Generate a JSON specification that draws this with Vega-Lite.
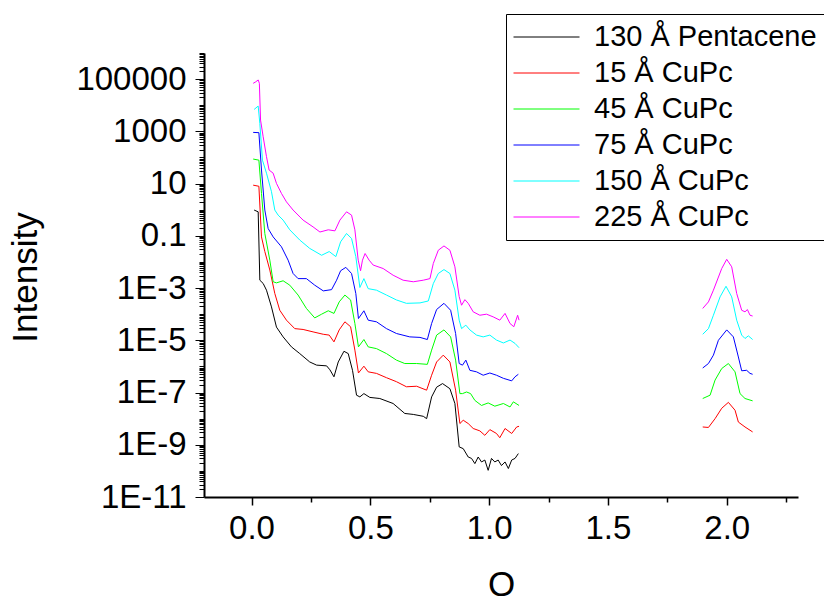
{
"$schema": "https://vega.github.io/schema/vega-lite/v6.json",
"width": 594, "height": 444,
"autosize": {"type": "none"},
"padding": {"left": 204, "top": 53, "right": 26, "bottom": 99},
"config": {"font": "Liberation Sans", "view": {"stroke": null}},
"data": {"values": [
{"series":"130 Å Pentacene","seg":1,"q":0.011,"i":0.97},{"series":"130 Å Pentacene","seg":1,"q":0.028,"i":0.83},{"series":"130 Å Pentacene","seg":1,"q":0.035,"i":2.0e-3},{"series":"130 Å Pentacene","seg":1,"q":0.049,"i":1.5e-3},{"series":"130 Å Pentacene","seg":1,"q":0.063,"i":8.3e-4},{"series":"130 Å Pentacene","seg":1,"q":0.084,"i":1.9e-4},{"series":"130 Å Pentacene","seg":1,"q":0.105,"i":3.2e-5},{"series":"130 Å Pentacene","seg":1,"q":0.133,"i":1.35e-5},{"series":"130 Å Pentacene","seg":1,"q":0.168,"i":5.6e-6},{"series":"130 Å Pentacene","seg":1,"q":0.203,"i":3.1e-6},{"series":"130 Å Pentacene","seg":1,"q":0.245,"i":1.48e-6},{"series":"130 Å Pentacene","seg":1,"q":0.274,"i":1.12e-6},{"series":"130 Å Pentacene","seg":1,"q":0.316,"i":1.05e-6},{"series":"130 Å Pentacene","seg":1,"q":0.330,"i":7.4e-7},{"series":"130 Å Pentacene","seg":1,"q":0.347,"i":4.0e-7},{"series":"130 Å Pentacene","seg":1,"q":0.365,"i":1.48e-6},{"series":"130 Å Pentacene","seg":1,"q":0.389,"i":3.8e-6},{"series":"130 Å Pentacene","seg":1,"q":0.407,"i":3.1e-6},{"series":"130 Å Pentacene","seg":1,"q":0.425,"i":7.1e-7},{"series":"130 Å Pentacene","seg":1,"q":0.442,"i":7.9e-8},{"series":"130 Å Pentacene","seg":1,"q":0.456,"i":6.8e-8},{"series":"130 Å Pentacene","seg":1,"q":0.473,"i":9.1e-8},{"series":"130 Å Pentacene","seg":1,"q":0.498,"i":6.5e-8},{"series":"130 Å Pentacene","seg":1,"q":0.540,"i":5.9e-8},{"series":"130 Å Pentacene","seg":1,"q":0.596,"i":3.8e-8},{"series":"130 Å Pentacene","seg":1,"q":0.645,"i":1.58e-8},{"series":"130 Å Pentacene","seg":1,"q":0.681,"i":1.45e-8},{"series":"130 Å Pentacene","seg":1,"q":0.723,"i":1.23e-8},{"series":"130 Å Pentacene","seg":1,"q":0.737,"i":1.0e-8},{"series":"130 Å Pentacene","seg":1,"q":0.758,"i":6.8e-8},{"series":"130 Å Pentacene","seg":1,"q":0.779,"i":1.6e-7},{"series":"130 Å Pentacene","seg":1,"q":0.804,"i":2.2e-7},{"series":"130 Å Pentacene","seg":1,"q":0.835,"i":1.4e-7},{"series":"130 Å Pentacene","seg":1,"q":0.856,"i":3.8e-8},{"series":"130 Å Pentacene","seg":1,"q":0.874,"i":8.3e-10},{"series":"130 Å Pentacene","seg":1,"q":0.891,"i":7.1e-10},{"series":"130 Å Pentacene","seg":1,"q":0.912,"i":3.4e-10},{"series":"130 Å Pentacene","seg":1,"q":0.926,"i":3.0e-10},{"series":"130 Å Pentacene","seg":1,"q":0.940,"i":1.9e-10},{"series":"130 Å Pentacene","seg":1,"q":0.954,"i":3.4e-10},{"series":"130 Å Pentacene","seg":1,"q":0.968,"i":2.2e-10},{"series":"130 Å Pentacene","seg":1,"q":0.982,"i":2.6e-10},{"series":"130 Å Pentacene","seg":1,"q":0.996,"i":1.05e-10},{"series":"130 Å Pentacene","seg":1,"q":1.010,"i":3.0e-10},{"series":"130 Å Pentacene","seg":1,"q":1.024,"i":2.2e-10},{"series":"130 Å Pentacene","seg":1,"q":1.038,"i":2.6e-10},{"series":"130 Å Pentacene","seg":1,"q":1.052,"i":1.6e-10},{"series":"130 Å Pentacene","seg":1,"q":1.067,"i":2.2e-10},{"series":"130 Å Pentacene","seg":1,"q":1.081,"i":1.23e-10},{"series":"130 Å Pentacene","seg":1,"q":1.095,"i":2.6e-10},{"series":"130 Å Pentacene","seg":1,"q":1.109,"i":3.0e-10},{"series":"130 Å Pentacene","seg":1,"q":1.123,"i":4.6e-10},

{"series":"15 Å CuPc","seg":1,"q":0.007,"i":8.7},{"series":"15 Å CuPc","seg":1,"q":0.031,"i":7.9},{"series":"15 Å CuPc","seg":1,"q":0.042,"i":0.091},{"series":"15 Å CuPc","seg":1,"q":0.056,"i":0.025},{"series":"15 Å CuPc","seg":1,"q":0.077,"i":4.9e-3},{"series":"15 Å CuPc","seg":1,"q":0.098,"i":6.2e-4},{"series":"15 Å CuPc","seg":1,"q":0.119,"i":1.41e-4},{"series":"15 Å CuPc","seg":1,"q":0.147,"i":5.9e-5},{"series":"15 Å CuPc","seg":1,"q":0.182,"i":2.8e-5},{"series":"15 Å CuPc","seg":1,"q":0.217,"i":2.6e-5},{"series":"15 Å CuPc","seg":1,"q":0.259,"i":2.1e-5},{"series":"15 Å CuPc","seg":1,"q":0.302,"i":1.7e-5},{"series":"15 Å CuPc","seg":1,"q":0.327,"i":1.58e-5},{"series":"15 Å CuPc","seg":1,"q":0.347,"i":8.7e-6},{"series":"15 Å CuPc","seg":1,"q":0.369,"i":2.5e-5},{"series":"15 Å CuPc","seg":1,"q":0.393,"i":5.1e-5},{"series":"15 Å CuPc","seg":1,"q":0.417,"i":3.3e-5},{"series":"15 Å CuPc","seg":1,"q":0.435,"i":4.2e-6},{"series":"15 Å CuPc","seg":1,"q":0.450,"i":5.6e-7},{"series":"15 Å CuPc","seg":1,"q":0.473,"i":1.02e-6},{"series":"15 Å CuPc","seg":1,"q":0.491,"i":6.2e-7},{"series":"15 Å CuPc","seg":1,"q":0.526,"i":5.4e-7},{"series":"15 Å CuPc","seg":1,"q":0.568,"i":3.7e-7},{"series":"15 Å CuPc","seg":1,"q":0.610,"i":2.6e-7},{"series":"15 Å CuPc","seg":1,"q":0.652,"i":1.66e-7},{"series":"15 Å CuPc","seg":1,"q":0.695,"i":1.74e-7},{"series":"15 Å CuPc","seg":1,"q":0.737,"i":1.23e-7},{"series":"15 Å CuPc","seg":1,"q":0.758,"i":4.6e-7},{"series":"15 Å CuPc","seg":1,"q":0.779,"i":1.48e-6},{"series":"15 Å CuPc","seg":1,"q":0.807,"i":2.7e-6},{"series":"15 Å CuPc","seg":1,"q":0.835,"i":1.48e-6},{"series":"15 Å CuPc","seg":1,"q":0.859,"i":1.23e-7},{"series":"15 Å CuPc","seg":1,"q":0.877,"i":6.5e-9},{"series":"15 Å CuPc","seg":1,"q":0.891,"i":8.7e-9},{"series":"15 Å CuPc","seg":1,"q":0.912,"i":6.5e-9},{"series":"15 Å CuPc","seg":1,"q":0.933,"i":4.2e-9},{"series":"15 Å CuPc","seg":1,"q":0.961,"i":3.4e-9},{"series":"15 Å CuPc","seg":1,"q":0.982,"i":2.3e-9},{"series":"15 Å CuPc","seg":1,"q":1.003,"i":3.8e-9},{"series":"15 Å CuPc","seg":1,"q":1.031,"i":2.7e-9},{"series":"15 Å CuPc","seg":1,"q":1.045,"i":1.86e-9},{"series":"15 Å CuPc","seg":1,"q":1.067,"i":4.2e-9},{"series":"15 Å CuPc","seg":1,"q":1.095,"i":2.7e-9},{"series":"15 Å CuPc","seg":1,"q":1.116,"i":4.8e-9},{"series":"15 Å CuPc","seg":1,"q":1.126,"i":5.1e-9},
{"series":"15 Å CuPc","seg":2,"q":1.899,"i":4.8e-9},{"series":"15 Å CuPc","seg":2,"q":1.923,"i":4.6e-9},{"series":"15 Å CuPc","seg":2,"q":1.951,"i":1.0e-8},{"series":"15 Å CuPc","seg":2,"q":1.979,"i":2.5e-8},{"series":"15 Å CuPc","seg":2,"q":2.007,"i":4.2e-8},{"series":"15 Å CuPc","seg":2,"q":2.035,"i":2.1e-8},{"series":"15 Å CuPc","seg":2,"q":2.049,"i":7.4e-9},{"series":"15 Å CuPc","seg":2,"q":2.077,"i":4.8e-9},{"series":"15 Å CuPc","seg":2,"q":2.109,"i":3.1e-9},

{"series":"45 Å CuPc","seg":1,"q":0.007,"i":87},{"series":"45 Å CuPc","seg":1,"q":0.031,"i":79},{"series":"45 Å CuPc","seg":1,"q":0.042,"i":4.2},{"series":"45 Å CuPc","seg":1,"q":0.056,"i":0.123},{"series":"45 Å CuPc","seg":1,"q":0.077,"i":0.0117},{"series":"45 Å CuPc","seg":1,"q":0.091,"i":1.74e-3},{"series":"45 Å CuPc","seg":1,"q":0.105,"i":1.58e-3},{"series":"45 Å CuPc","seg":1,"q":0.133,"i":1.9e-3},{"series":"45 Å CuPc","seg":1,"q":0.161,"i":1.29e-3},{"series":"45 Å CuPc","seg":1,"q":0.196,"i":5.4e-4},{"series":"45 Å CuPc","seg":1,"q":0.231,"i":1.66e-4},{"series":"45 Å CuPc","seg":1,"q":0.266,"i":7.2e-5},{"series":"45 Å CuPc","seg":1,"q":0.295,"i":1.0e-4},{"series":"45 Å CuPc","seg":1,"q":0.323,"i":1.35e-4},{"series":"45 Å CuPc","seg":1,"q":0.347,"i":1.07e-4},{"series":"45 Å CuPc","seg":1,"q":0.369,"i":2.95e-4},{"series":"45 Å CuPc","seg":1,"q":0.393,"i":5.4e-4},{"series":"45 Å CuPc","seg":1,"q":0.417,"i":3.5e-4},{"series":"45 Å CuPc","seg":1,"q":0.435,"i":4.4e-5},{"series":"45 Å CuPc","seg":1,"q":0.450,"i":5.6e-6},{"series":"45 Å CuPc","seg":1,"q":0.473,"i":1.07e-5},{"series":"45 Å CuPc","seg":1,"q":0.491,"i":5.6e-6},{"series":"45 Å CuPc","seg":1,"q":0.526,"i":4.8e-6},{"series":"45 Å CuPc","seg":1,"q":0.568,"i":3.1e-6},{"series":"45 Å CuPc","seg":1,"q":0.610,"i":1.74e-6},{"series":"45 Å CuPc","seg":1,"q":0.645,"i":1.29e-6},{"series":"45 Å CuPc","seg":1,"q":0.695,"i":1.29e-6},{"series":"45 Å CuPc","seg":1,"q":0.740,"i":1.2e-6},{"series":"45 Å CuPc","seg":1,"q":0.758,"i":4.2e-6},{"series":"45 Å CuPc","seg":1,"q":0.779,"i":1.58e-5},{"series":"45 Å CuPc","seg":1,"q":0.810,"i":2.5e-5},{"series":"45 Å CuPc","seg":1,"q":0.838,"i":1.35e-5},{"series":"45 Å CuPc","seg":1,"q":0.859,"i":1.74e-6},{"series":"45 Å CuPc","seg":1,"q":0.877,"i":9.1e-8},{"series":"45 Å CuPc","seg":1,"q":0.888,"i":9.1e-8},{"series":"45 Å CuPc","seg":1,"q":0.905,"i":1.05e-7},{"series":"45 Å CuPc","seg":1,"q":0.922,"i":9.1e-8},{"series":"45 Å CuPc","seg":1,"q":0.940,"i":5.0e-8},{"series":"45 Å CuPc","seg":1,"q":0.968,"i":3.2e-8},{"series":"45 Å CuPc","seg":1,"q":0.996,"i":4.0e-8},{"series":"45 Å CuPc","seg":1,"q":1.024,"i":3.0e-8},{"series":"45 Å CuPc","seg":1,"q":1.060,"i":3.8e-8},{"series":"45 Å CuPc","seg":1,"q":1.088,"i":2.8e-8},{"series":"45 Å CuPc","seg":1,"q":1.102,"i":4.4e-8},{"series":"45 Å CuPc","seg":1,"q":1.126,"i":3.2e-8},
{"series":"45 Å CuPc","seg":2,"q":1.899,"i":5.9e-8},{"series":"45 Å CuPc","seg":2,"q":1.930,"i":7.9e-8},{"series":"45 Å CuPc","seg":2,"q":1.951,"i":3.0e-7},{"series":"45 Å CuPc","seg":2,"q":1.979,"i":8.3e-7},{"series":"45 Å CuPc","seg":2,"q":2.007,"i":1.29e-6},{"series":"45 Å CuPc","seg":2,"q":2.035,"i":6.2e-7},{"series":"45 Å CuPc","seg":2,"q":2.056,"i":9.1e-8},{"series":"45 Å CuPc","seg":2,"q":2.077,"i":5.9e-8},{"series":"45 Å CuPc","seg":2,"q":2.109,"i":4.8e-8},

{"series":"75 Å CuPc","seg":1,"q":0.007,"i":912},{"series":"75 Å CuPc","seg":1,"q":0.031,"i":891},{"series":"75 Å CuPc","seg":1,"q":0.042,"i":33},{"series":"75 Å CuPc","seg":1,"q":0.056,"i":0.97},{"series":"75 Å CuPc","seg":1,"q":0.070,"i":0.19},{"series":"75 Å CuPc","seg":1,"q":0.091,"i":0.091},{"series":"75 Å CuPc","seg":1,"q":0.126,"i":0.038},{"series":"75 Å CuPc","seg":1,"q":0.154,"i":0.0117},{"series":"75 Å CuPc","seg":1,"q":0.175,"i":3.6e-3},{"series":"75 Å CuPc","seg":1,"q":0.196,"i":2.3e-3},{"series":"75 Å CuPc","seg":1,"q":0.231,"i":2.3e-3},{"series":"75 Å CuPc","seg":1,"q":0.266,"i":1.29e-3},{"series":"75 Å CuPc","seg":1,"q":0.302,"i":7.8e-4},{"series":"75 Å CuPc","seg":1,"q":0.337,"i":8.7e-4},{"series":"75 Å CuPc","seg":1,"q":0.358,"i":2.0e-3},{"series":"75 Å CuPc","seg":1,"q":0.375,"i":4.6e-3},{"series":"75 Å CuPc","seg":1,"q":0.397,"i":6.2e-3},{"series":"75 Å CuPc","seg":1,"q":0.421,"i":3.6e-3},{"series":"75 Å CuPc","seg":1,"q":0.439,"i":6.2e-4},{"series":"75 Å CuPc","seg":1,"q":0.450,"i":6.8e-5},{"series":"75 Å CuPc","seg":1,"q":0.473,"i":1.35e-4},{"series":"75 Å CuPc","seg":1,"q":0.491,"i":5.9e-5},{"series":"75 Å CuPc","seg":1,"q":0.526,"i":5.1e-5},{"series":"75 Å CuPc","seg":1,"q":0.568,"i":2.8e-5},{"series":"75 Å CuPc","seg":1,"q":0.610,"i":1.82e-5},{"series":"75 Å CuPc","seg":1,"q":0.666,"i":1.35e-5},{"series":"75 Å CuPc","seg":1,"q":0.709,"i":1.29e-5},{"series":"75 Å CuPc","seg":1,"q":0.740,"i":1.07e-5},{"series":"75 Å CuPc","seg":1,"q":0.758,"i":4.4e-5},{"series":"75 Å CuPc","seg":1,"q":0.779,"i":1.51e-4},{"series":"75 Å CuPc","seg":1,"q":0.810,"i":2.6e-4},{"series":"75 Å CuPc","seg":1,"q":0.838,"i":1.41e-4},{"series":"75 Å CuPc","seg":1,"q":0.859,"i":1.82e-5},{"series":"75 Å CuPc","seg":1,"q":0.874,"i":1.29e-6},{"series":"75 Å CuPc","seg":1,"q":0.888,"i":1.12e-6},{"series":"75 Å CuPc","seg":1,"q":0.902,"i":1.74e-6},{"series":"75 Å CuPc","seg":1,"q":0.919,"i":7.1e-7},{"series":"75 Å CuPc","seg":1,"q":0.947,"i":6.2e-7},{"series":"75 Å CuPc","seg":1,"q":0.975,"i":4.6e-7},{"series":"75 Å CuPc","seg":1,"q":1.003,"i":5.6e-7},{"series":"75 Å CuPc","seg":1,"q":1.031,"i":4.6e-7},{"series":"75 Å CuPc","seg":1,"q":1.060,"i":3.5e-7},{"series":"75 Å CuPc","seg":1,"q":1.095,"i":2.8e-7},{"series":"75 Å CuPc","seg":1,"q":1.109,"i":4.0e-7},{"series":"75 Å CuPc","seg":1,"q":1.123,"i":5.0e-7},
{"series":"75 Å CuPc","seg":2,"q":1.899,"i":8.7e-7},{"series":"75 Å CuPc","seg":2,"q":1.923,"i":1.29e-6},{"series":"75 Å CuPc","seg":2,"q":1.944,"i":2.7e-6},{"series":"75 Å CuPc","seg":2,"q":1.965,"i":1.0e-5},{"series":"75 Å CuPc","seg":2,"q":2.000,"i":2.5e-5},{"series":"75 Å CuPc","seg":2,"q":2.028,"i":1.35e-5},{"series":"75 Å CuPc","seg":2,"q":2.049,"i":2.3e-6},{"series":"75 Å CuPc","seg":2,"q":2.063,"i":6.8e-7},{"series":"75 Å CuPc","seg":2,"q":2.084,"i":7.1e-7},{"series":"75 Å CuPc","seg":2,"q":2.098,"i":5.4e-7},{"series":"75 Å CuPc","seg":2,"q":2.109,"i":5.0e-7},

{"series":"150 Å CuPc","seg":1,"q":0.011,"i":6900},{"series":"150 Å CuPc","seg":1,"q":0.028,"i":9300},{"series":"150 Å CuPc","seg":1,"q":0.035,"i":2000},{"series":"150 Å CuPc","seg":1,"q":0.046,"i":79},{"series":"150 Å CuPc","seg":1,"q":0.063,"i":25},{"series":"150 Å CuPc","seg":1,"q":0.084,"i":4.9},{"series":"150 Å CuPc","seg":1,"q":0.098,"i":0.97},{"series":"150 Å CuPc","seg":1,"q":0.112,"i":0.62},{"series":"150 Å CuPc","seg":1,"q":0.133,"i":0.40},{"series":"150 Å CuPc","seg":1,"q":0.161,"i":0.17},{"series":"150 Å CuPc","seg":1,"q":0.203,"i":0.069},{"series":"150 Å CuPc","seg":1,"q":0.245,"i":0.033},{"series":"150 Å CuPc","seg":1,"q":0.295,"i":0.018},{"series":"150 Å CuPc","seg":1,"q":0.327,"i":0.025},{"series":"150 Å CuPc","seg":1,"q":0.355,"i":0.016},{"series":"150 Å CuPc","seg":1,"q":0.375,"i":0.059},{"series":"150 Å CuPc","seg":1,"q":0.400,"i":0.123},{"series":"150 Å CuPc","seg":1,"q":0.421,"i":0.079},{"series":"150 Å CuPc","seg":1,"q":0.439,"i":0.016},{"series":"150 Å CuPc","seg":1,"q":0.456,"i":1.05e-3},{"series":"150 Å CuPc","seg":1,"q":0.473,"i":2.3e-3},{"series":"150 Å CuPc","seg":1,"q":0.491,"i":9.5e-4},{"series":"150 Å CuPc","seg":1,"q":0.526,"i":8.3e-4},{"series":"150 Å CuPc","seg":1,"q":0.568,"i":5.4e-4},{"series":"150 Å CuPc","seg":1,"q":0.610,"i":3.5e-4},{"series":"150 Å CuPc","seg":1,"q":0.652,"i":2.6e-4},{"series":"150 Å CuPc","seg":1,"q":0.709,"i":2.7e-4},{"series":"150 Å CuPc","seg":1,"q":0.744,"i":3.2e-4},{"series":"150 Å CuPc","seg":1,"q":0.765,"i":1.48e-3},{"series":"150 Å CuPc","seg":1,"q":0.786,"i":3.6e-3},{"series":"150 Å CuPc","seg":1,"q":0.810,"i":5.1e-3},{"series":"150 Å CuPc","seg":1,"q":0.835,"i":3.6e-3},{"series":"150 Å CuPc","seg":1,"q":0.856,"i":8.3e-4},{"series":"150 Å CuPc","seg":1,"q":0.874,"i":5.9e-5},{"series":"150 Å CuPc","seg":1,"q":0.884,"i":2.8e-5},{"series":"150 Å CuPc","seg":1,"q":0.902,"i":3.8e-5},{"series":"150 Å CuPc","seg":1,"q":0.919,"i":2.5e-5},{"series":"150 Å CuPc","seg":1,"q":0.947,"i":1.58e-5},{"series":"150 Å CuPc","seg":1,"q":0.975,"i":1.35e-5},{"series":"150 Å CuPc","seg":1,"q":1.003,"i":1.58e-5},{"series":"150 Å CuPc","seg":1,"q":1.031,"i":1.02e-5},{"series":"150 Å CuPc","seg":1,"q":1.060,"i":7.9e-6},{"series":"150 Å CuPc","seg":1,"q":1.088,"i":1.02e-5},{"series":"150 Å CuPc","seg":1,"q":1.109,"i":7.6e-6},{"series":"150 Å CuPc","seg":1,"q":1.126,"i":5.2e-6},
{"series":"150 Å CuPc","seg":2,"q":1.899,"i":1.7e-5},{"series":"150 Å CuPc","seg":2,"q":1.923,"i":2.8e-5},{"series":"150 Å CuPc","seg":2,"q":1.944,"i":9.1e-5},{"series":"150 Å CuPc","seg":2,"q":1.972,"i":4.6e-4},{"series":"150 Å CuPc","seg":2,"q":1.997,"i":1.17e-3},{"series":"150 Å CuPc","seg":2,"q":2.021,"i":4.6e-4},{"series":"150 Å CuPc","seg":2,"q":2.042,"i":5.9e-5},{"series":"150 Å CuPc","seg":2,"q":2.063,"i":1.58e-5},{"series":"150 Å CuPc","seg":2,"q":2.077,"i":1.17e-5},{"series":"150 Å CuPc","seg":2,"q":2.091,"i":1.48e-5},{"series":"150 Å CuPc","seg":2,"q":2.109,"i":1.07e-5},

{"series":"225 Å CuPc","seg":1,"q":0.007,"i":69000},{"series":"225 Å CuPc","seg":1,"q":0.018,"i":79000},{"series":"225 Å CuPc","seg":1,"q":0.028,"i":93000},{"series":"225 Å CuPc","seg":1,"q":0.033,"i":69000},{"series":"225 Å CuPc","seg":1,"q":0.038,"i":2700},{"series":"225 Å CuPc","seg":1,"q":0.049,"i":620},{"series":"225 Å CuPc","seg":1,"q":0.063,"i":107},{"series":"225 Å CuPc","seg":1,"q":0.074,"i":33},{"series":"225 Å CuPc","seg":1,"q":0.091,"i":25},{"series":"225 Å CuPc","seg":1,"q":0.105,"i":10.2},{"series":"225 Å CuPc","seg":1,"q":0.126,"i":4.2},{"series":"225 Å CuPc","seg":1,"q":0.147,"i":2.0},{"series":"225 Å CuPc","seg":1,"q":0.175,"i":0.97},{"series":"225 Å CuPc","seg":1,"q":0.217,"i":0.40},{"series":"225 Å CuPc","seg":1,"q":0.259,"i":0.22},{"series":"225 Å CuPc","seg":1,"q":0.288,"i":0.14},{"series":"225 Å CuPc","seg":1,"q":0.323,"i":0.17},{"series":"225 Å CuPc","seg":1,"q":0.351,"i":0.155},{"series":"225 Å CuPc","seg":1,"q":0.372,"i":0.40},{"series":"225 Å CuPc","seg":1,"q":0.400,"i":0.83},{"series":"225 Å CuPc","seg":1,"q":0.421,"i":0.62},{"series":"225 Å CuPc","seg":1,"q":0.435,"i":0.17},{"series":"225 Å CuPc","seg":1,"q":0.449,"i":0.0117},{"series":"225 Å CuPc","seg":1,"q":0.459,"i":4.6e-3},{"series":"225 Å CuPc","seg":1,"q":0.467,"i":0.0117},{"series":"225 Å CuPc","seg":1,"q":0.478,"i":0.021},{"series":"225 Å CuPc","seg":1,"q":0.495,"i":0.0117},{"series":"225 Å CuPc","seg":1,"q":0.512,"i":7.6e-3},{"series":"225 Å CuPc","seg":1,"q":0.554,"i":5.6e-3},{"series":"225 Å CuPc","seg":1,"q":0.596,"i":3.1e-3},{"series":"225 Å CuPc","seg":1,"q":0.638,"i":2.0e-3},{"series":"225 Å CuPc","seg":1,"q":0.681,"i":1.74e-3},{"series":"225 Å CuPc","seg":1,"q":0.723,"i":2.0e-3},{"series":"225 Å CuPc","seg":1,"q":0.751,"i":2.3e-3},{"series":"225 Å CuPc","seg":1,"q":0.765,"i":8.7e-3},{"series":"225 Å CuPc","seg":1,"q":0.786,"i":0.028},{"series":"225 Å CuPc","seg":1,"q":0.810,"i":0.041},{"series":"225 Å CuPc","seg":1,"q":0.835,"i":0.028},{"series":"225 Å CuPc","seg":1,"q":0.856,"i":6.5e-3},{"series":"225 Å CuPc","seg":1,"q":0.874,"i":4.7e-4},{"series":"225 Å CuPc","seg":1,"q":0.884,"i":2.2e-4},{"series":"225 Å CuPc","seg":1,"q":0.898,"i":3.6e-4},{"series":"225 Å CuPc","seg":1,"q":0.912,"i":2.6e-4},{"series":"225 Å CuPc","seg":1,"q":0.933,"i":1.23e-4},{"series":"225 Å CuPc","seg":1,"q":0.961,"i":9.1e-5},{"series":"225 Å CuPc","seg":1,"q":0.989,"i":1.0e-4},{"series":"225 Å CuPc","seg":1,"q":1.017,"i":7.9e-5},{"series":"225 Å CuPc","seg":1,"q":1.045,"i":5.9e-5},{"series":"225 Å CuPc","seg":1,"q":1.067,"i":1.07e-4},{"series":"225 Å CuPc","seg":1,"q":1.088,"i":4.4e-5},{"series":"225 Å CuPc","seg":1,"q":1.104,"i":3.3e-5},{"series":"225 Å CuPc","seg":1,"q":1.120,"i":9.1e-5},{"series":"225 Å CuPc","seg":1,"q":1.126,"i":5.9e-5},
{"series":"225 Å CuPc","seg":2,"q":1.899,"i":1.66e-4},{"series":"225 Å CuPc","seg":2,"q":1.923,"i":2.95e-4},{"series":"225 Å CuPc","seg":2,"q":1.944,"i":8.3e-4},{"series":"225 Å CuPc","seg":2,"q":1.979,"i":5.6e-3},{"series":"225 Å CuPc","seg":2,"q":2.000,"i":0.0126},{"series":"225 Å CuPc","seg":2,"q":2.021,"i":6.5e-3},{"series":"225 Å CuPc","seg":2,"q":2.042,"i":6.2e-4},{"series":"225 Å CuPc","seg":2,"q":2.063,"i":1.41e-4},{"series":"225 Å CuPc","seg":2,"q":2.077,"i":1.23e-4},{"series":"225 Å CuPc","seg":2,"q":2.087,"i":1.5e-4},{"series":"225 Å CuPc","seg":2,"q":2.098,"i":9.1e-5},{"series":"225 Å CuPc","seg":2,"q":2.109,"i":8.5e-5}
]},
"mark": {"type": "line", "strokeWidth": 1},
"encoding": {
  "x": {"field": "q", "type": "quantitative",
    "scale": {"domain": [-0.2, 2.3], "nice": false, "zero": false},
    "axis": {"title": "Q", "grid": false,
      "values": [0, 0.25, 0.5, 0.75, 1, 1.25, 1.5, 1.75, 2, 2.25],
      "labelExpr": "abs(datum.value*2-round(datum.value*2))<0.001 ? format(datum.value, '.1f') : ''",
      "tickSize": {"condition": {"test": "abs(datum.value*2-round(datum.value*2))<0.001", "value": 8}, "value": 5},
      "domainColor": "black", "domainWidth": 2, "tickColor": "black", "tickWidth": 1.5,
      "labelFontSize": 33, "labelColor": "black", "labelPadding": 7, "labelOverlap": false, "labelFlush": false,
      "titleFontSize": 35, "titleFontWeight": "normal", "titleColor": "black", "titleBaseline": "alphabetic", "titleY": 98}},
  "y": {"field": "i", "type": "quantitative",
    "scale": {"type": "log", "domain": [1e-11, 1e6], "nice": false},
    "axis": {"title": "Intensity", "grid": false,
      "values": [1e-11,2e-11,3e-11,4e-11,5e-11,6e-11,7e-11,8e-11,9e-11,1e-10,2e-10,3e-10,4e-10,5e-10,6e-10,7e-10,8e-10,9e-10,1e-9,2e-9,3e-9,4e-9,5e-9,6e-9,7e-9,8e-9,9e-9,1e-8,2e-8,3e-8,4e-8,5e-8,6e-8,7e-8,8e-8,9e-8,1e-7,2e-7,3e-7,4e-7,5e-7,6e-7,7e-7,8e-7,9e-7,1e-6,2e-6,3e-6,4e-6,5e-6,6e-6,7e-6,8e-6,9e-6,1e-5,2e-5,3e-5,4e-5,5e-5,6e-5,7e-5,8e-5,9e-5,1e-4,2e-4,3e-4,4e-4,5e-4,6e-4,7e-4,8e-4,9e-4,1e-3,2e-3,3e-3,4e-3,5e-3,6e-3,7e-3,8e-3,9e-3,0.01,0.02,0.03,0.04,0.05,0.06,0.07,0.08,0.09,0.1,0.2,0.3,0.4,0.5,0.6,0.7,0.8,0.9,1,2,3,4,5,6,7,8,9,10,20,30,40,50,60,70,80,90,100,200,300,400,500,600,700,800,900,1000,2000,3000,4000,5000,6000,7000,8000,9000,10000,20000,30000,40000,50000,60000,70000,80000,90000,100000,200000,300000,400000,500000,600000,700000,800000,900000,1000000],
      "labelExpr": "abs(log(datum.value)/LN10-round(log(datum.value)/LN10))<0.001 && round(log(datum.value)/LN10)%2!=0 ? (round(log(datum.value)/LN10)>=0 ? format(datum.value, 'd') : (round(log(datum.value)/LN10)==-1 ? '0.1' : '1E' + round(log(datum.value)/LN10))) : ''",
      "tickSize": {"condition": {"test": "abs(log(datum.value)/LN10-round(log(datum.value)/LN10))<0.001 && round(log(datum.value)/LN10)%2!=0", "value": 9}, "value": 5},
      "domainColor": "black", "domainWidth": 2, "tickColor": "black", "tickWidth": 1,
      "labelFontSize": 33, "labelColor": "black", "labelPadding": 9, "labelOverlap": false, "labelFlush": false,
      "titleFontSize": 35, "titleFontWeight": "normal", "titleColor": "black",
      "titleAngle": -90, "titleAlign": "center", "titleBaseline": "alphabetic", "titleX": -168, "titleY": 224}},
  "color": {"field": "series", "type": "nominal",
    "scale": {"domain": ["130 Å Pentacene", "15 Å CuPc", "45 Å CuPc", "75 Å CuPc", "150 Å CuPc", "225 Å CuPc"],
              "range": ["#000000", "#ff0000", "#00ff00", "#0000ff", "#00ffff", "#ff00ff"]},
    "legend": {"title": null, "orient": "none", "legendX": 302, "legendY": -39,
      "symbolType": "stroke", "symbolSize": 4356, "symbolStrokeWidth": 1, "clipHeight": 32, "rowPadding": 4,
      "padding": 7, "labelFontSize": 29, "labelLimit": 400, "labelColor": "black", "labelOffset": 14,
      "strokeColor": "black", "fillColor": "white"}},
  "detail": {"field": "seg", "type": "nominal"}
}
}
